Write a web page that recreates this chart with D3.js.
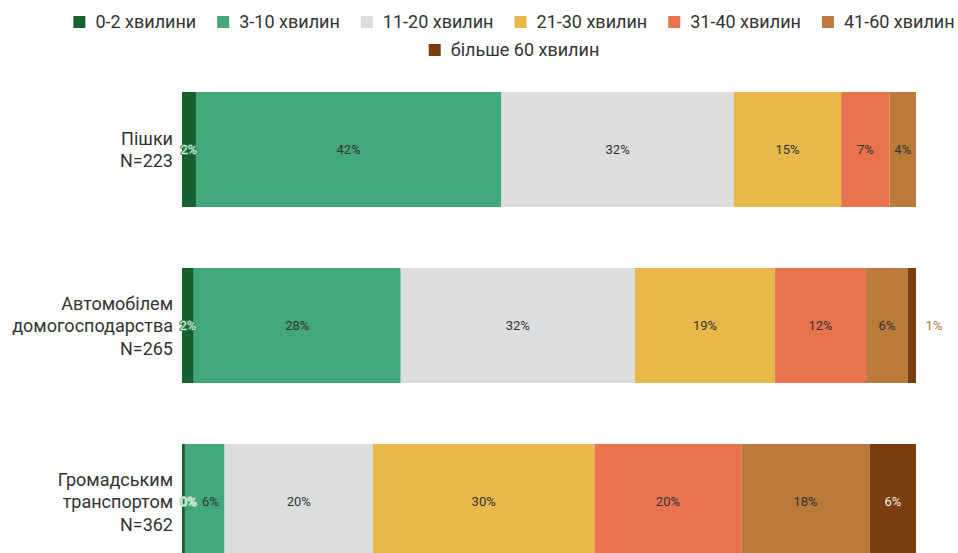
<!DOCTYPE html>
<html><head><meta charset="utf-8">
<script src="https://cdn.jsdelivr.net/npm/d3@7"></script>
<style>body{margin:0;background:#fff;font-family:Roboto,"Noto Sans",sans-serif}</style>
</head><body><svg id="c" width="958" height="553"></svg>
<script>
const categories = [["Пішки","N=223"],["Автомобілем","домогосподарства","N=265"],["Громадським","транспортом","N=362"]];
const seriesNames = ["0-2 хвилини","3-10 хвилин","11-20 хвилин","21-30 хвилин","31-40 хвилин","41-60 хвилин","більше 60 хвилин"];
const colors = ["#16602f","#42a77a","#dcdddf","#e8b84b","#e8744f","#b97a3a","#7a3e12"];
const valuesWalk = [1.9,41.6,31.7,14.6,6.6,3.6,0];
const valuesCar = [1.6,28.2,31.9,19.1,12.4,5.7,1.1];
const valuesTransit = [0.4,5.4,20.2,30.2,20.0,17.5,6.3];
const labelsWalk = ["2%","42%","32%","15%","7%","4%",""];
const labelsCar = ["2%","28%","32%","19%","12%","6%","1%"];
const labelsTransit = ["0%","6%","20%","30%","20%","18%","6%"];

const rows = [valuesWalk, valuesCar, valuesTransit];
const rowLabels = [labelsWalk, labelsCar, labelsTransit];
const svg = d3.select("#c");
const x = d3.scaleLinear().domain([0,100]).range([182,916]);
const y = d3.scaleBand().domain([0,1,2]).range([92,559]).paddingInner(61/176).paddingOuter(0);

rows.forEach((vals, r) => {
  let acc = 0;
  const g = svg.append("g");
  vals.forEach((v, i) => {
    const x0 = x(acc), x1 = x(acc + v);
    acc += v;
    if (v <= 0) return;
    g.append("rect").attr("x", x0).attr("y", y(r)).attr("width", x1 - x0).attr("height", y.bandwidth()).attr("fill", colors[i]);
  });
  acc = 0;
  let prevRight = -Infinity;
  vals.forEach((v, i) => {
    const x0 = x(acc), x1 = x(acc + v);
    acc += v;
    const lab = rowLabels[r][i];
    if (!lab) return;
    const cy = y(r) + y.bandwidth()/2 + 4.5;
    const t = g.append("text").attr("y", cy).attr("font-size", 13).attr("text-anchor", "middle").text(lab);
    let cx;
    if (i === 6 && r === 1) {
      cx = x1 + 18;
      t.attr("fill", "#b97a3a");
    } else if (v < 3) {
      cx = (x0 + x1)/2 + (v < 1 ? 5 : 0);
      t.attr("fill", r === 2 ? "#e6f4ea" : "#d9efe1")
       .attr("stroke", r === 2 ? "#8cc9a6" : "#3e8d5f").attr("stroke-width", 2).attr("paint-order", "stroke").attr("stroke-linejoin","round");
    } else {
      cx = (x0 + x1)/2;
      t.attr("fill", i === 6 ? "#f3ede6" : "#333");
    }
    const w = t.node().getComputedTextLength();
    if (cx - w/2 < prevRight + 5) cx = prevRight + 5 + w/2;
    t.attr("x", cx);
    prevRight = cx + w/2;
  });
  const lines = categories[r];
  const lh = 22.5;
  const cyc = y(r) + y.bandwidth()/2;
  const tt = svg.append("text").attr("x", 173).attr("text-anchor", "end").attr("font-size", 18).attr("fill", "#333");
  lines.forEach((l, k) => {
    tt.append("tspan").attr("x", 173).attr("y", cyc + (k - (lines.length-1)/2) * lh + 6.5).text(l);
  });
});

// legend
const leg = svg.append("g").attr("font-size", 18).attr("fill", "#333");
function legendRow(items, yy, cx) {
  const gg = leg.append("g");
  let xx = 0;
  items.forEach(i => {
    gg.append("rect").attr("x", xx).attr("y", yy - 6).attr("width", 12).attr("height", 12).attr("fill", colors[i]);
    const t = gg.append("text").attr("x", xx + 22).attr("y", yy + 6).attr("fill", "#333").text(seriesNames[i]);
    xx += 22 + t.node().getComputedTextLength() + 21;
  });
  const w = xx - 21;
  gg.attr("transform", `translate(${cx - w/2},0)`);
}
legendRow([0,1,2,3,4,5], 22, 514);
legendRow([6], 50, 514);
</script></body></html>
